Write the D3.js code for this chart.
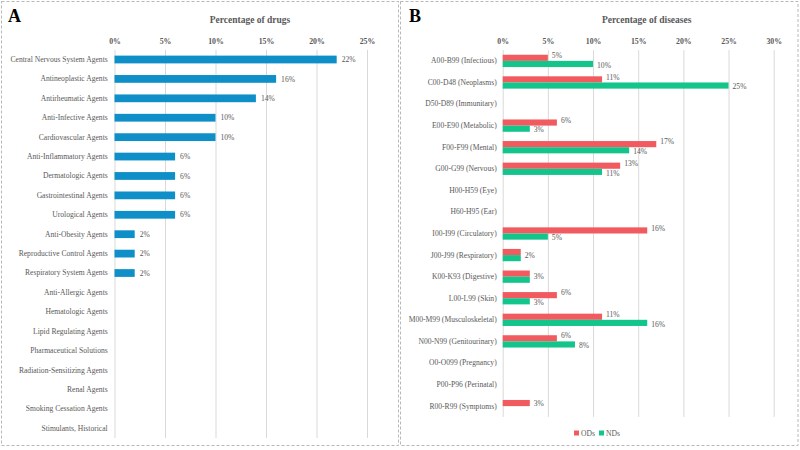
<!DOCTYPE html>
<html><head><meta charset="utf-8">
<script src="https://cdn.jsdelivr.net/npm/d3@7"></script>
<style>body{margin:0;background:#fff}svg{display:block}text{font-family:"Liberation Serif","Times New Roman",serif}</style>
</head><body>
<svg id="c" width="800" height="450"></svg>
<script>
// ---- Data ----
const drugCategories = ["Central Nervous System Agents","Antineoplastic Agents","Antirheumatic Agents","Anti-Infective Agents","Cardiovascular Agents","Anti-Inflammatory Agents","Dermatologic Agents","Gastrointestinal Agents","Urological Agents","Anti-Obesity Agents","Reproductive Control Agents","Respiratory System Agents","Anti-Allergic Agents","Hematologic Agents","Lipid Regulating Agents","Pharmaceutical Solutions","Radiation-Sensitizing Agents","Renal Agents","Smoking Cessation Agents","Stimulants, Historical"];
const drugValues = [0.22,0.16,0.14,0.10,0.10,0.06,0.06,0.06,0.06,0.02,0.02,0.02,0,0,0,0,0,0,0,0];
const drugTicks = [0,0.05,0.10,0.15,0.20,0.25];

const diseaseCategories = ["A00-B99 (Infectious)","C00-D48 (Neoplasms)","D50-D89 (Immunitary)","E00-E90 (Metabolic)","F00-F99 (Mental)","G00-G99 (Nervous)","H00-H59 (Eye)","H60-H95 (Ear)","I00-I99 (Circulatory)","J00-J99 (Respiratory)","K00-K93 (Digestive)","L00-L99 (Skin)","M00-M99 (Musculoskeletal)","N00-N99 (Genitourinary)","O0-O099 (Pregnancy)","P00-P96 (Perinatal)","R00-R99 (Symptoms)"];
const odsValues = [0.05,0.11,0,0.06,0.17,0.13,0,0,0.16,0.02,0.03,0.06,0.11,0.06,0,0,0.03];
const ndsValues = [0.10,0.25,0,0.03,0.14,0.11,0,0,0.05,0.02,0.03,0.03,0.16,0.08,0,0,0];
const diseaseTicks = [0,0.05,0.10,0.15,0.20,0.25,0.30];
const seriesNames = ["ODs","NDs"];

const svg = d3.select("#c");
const gray = "#595959", grid = "#D9D9D9";
const fmt = d3.format(".0%");

// panel borders
[[1.5,1.5,397,444],[400.5,1.5,397.5,444]].forEach(b=>{
  svg.append("rect").attr("x",b[0]).attr("y",b[1]).attr("width",b[2]).attr("height",b[3])
    .attr("fill","none").attr("stroke","#A6A6A6").attr("stroke-width",0.8).attr("stroke-dasharray","3,2");
});

// ---------- Panel A ----------
{
  const x = d3.scaleLinear().domain([0,0.25]).range([114.5,367]);
  const y = d3.scaleBand().domain(drugCategories).range([49.8,438]).paddingInner(0.6).paddingOuter(0.3);
  const g = svg.append("g");
  g.append("text").attr("x",8).attr("y",22).attr("font-size",18).attr("font-weight","bold").attr("fill","#000").text("A");
  g.append("text").attr("x",250).attr("y",23).attr("text-anchor","middle").attr("font-size",9.5).attr("font-weight","bold").attr("fill",gray).text("Percentage of drugs");
  const ax = d3.axisTop(x).tickValues(drugTicks).tickFormat(fmt).tickSize(-(438-49.8)).tickPadding(6);
  const axg = g.append("g").attr("transform","translate(0,49.8)").call(ax);
  axg.select(".domain").remove();
  axg.selectAll("line").attr("stroke",grid).attr("stroke-width",1);
  axg.selectAll("text").attr("font-size",7.8).attr("font-weight","bold").attr("fill",gray);
  const yAx = d3.axisLeft(y).tickSize(0).tickPadding(6.8);
  const yg = g.append("g").attr("transform","translate(114.5,0)").call(yAx);
  yg.select(".domain").remove();
  yg.selectAll("text").attr("font-size",7.6).attr("fill",gray);
  const data = drugCategories.map((c,i)=>({c,v:drugValues[i]}));
  g.selectAll("rect.bar").data(data.filter(d=>d.v>0)).join("rect").attr("class","bar")
    .attr("x",x(0)).attr("y",d=>y(d.c)).attr("width",d=>x(d.v)-x(0)).attr("height",y.bandwidth()).attr("fill","#0F8FC8");
  g.selectAll("text.val").data(data.filter(d=>d.v>0)).join("text").attr("class","val")
    .attr("x",d=>x(d.v)+5).attr("y",d=>y(d.c)+y.bandwidth()/2).attr("dy","0.35em")
    .attr("font-size",7.6).attr("fill",gray).text(d=>fmt(d.v));
}

// ---------- Panel B ----------
{
  const x = d3.scaleLinear().domain([0,0.30]).range([502.7,773.7]);
  const y = d3.scaleBand().domain(diseaseCategories).range([50.1,416.9]).paddingInner(0.43).paddingOuter(0.215);
  const sub = d3.scaleBand().domain(seriesNames).range([0,y.bandwidth()]);
  const colors = {ODs:"#F15B60",NDs:"#13C48B"};
  const g = svg.append("g");
  g.append("text").attr("x",409).attr("y",22).attr("font-size",18).attr("font-weight","bold").attr("fill","#000").text("B");
  g.append("text").attr("x",646.7).attr("y",23).attr("text-anchor","middle").attr("font-size",9.5).attr("font-weight","bold").attr("fill",gray).text("Percentage of diseases");
  const ax = d3.axisTop(x).tickValues(diseaseTicks).tickFormat(fmt).tickSize(-(416.9-50.1)).tickPadding(6);
  const axg = g.append("g").attr("transform","translate(0,50.1)").call(ax);
  axg.select(".domain").remove();
  axg.selectAll("line").attr("stroke",grid).attr("stroke-width",1);
  axg.selectAll("text").attr("font-size",7.8).attr("font-weight","bold").attr("fill",gray);
  const yAx = d3.axisLeft(y).tickSize(0).tickPadding(6);
  const yg = g.append("g").attr("transform","translate(502.7,0)").call(yAx);
  yg.select(".domain").remove();
  yg.selectAll("text").attr("font-size",7.6).attr("fill",gray);
  const data = [];
  diseaseCategories.forEach((c,i)=>{
    data.push({c,s:"ODs",v:odsValues[i],other:ndsValues[i]});
    data.push({c,s:"NDs",v:ndsValues[i],other:odsValues[i]});
  });
  const nz = data.filter(d=>d.v>0);
  g.selectAll("rect.bar").data(nz).join("rect").attr("class","bar")
    .attr("x",x(0)).attr("y",d=>y(d.c)+sub(d.s)).attr("width",d=>x(d.v)-x(0)).attr("height",sub.bandwidth()).attr("fill",d=>colors[d.s]);
  // Excel-like label placement: equal values share one label at the pair boundary
  const labelY = d => {
    if (d.v === d.other) return y(d.c) + y.bandwidth()/2;
    const base = y(d.c)+sub(d.s)+sub.bandwidth()/2;
    if (d.s === "ODs") return base + (d.other>0 ? -2.5 : 0);
    return base + 1;
  };
  const labels = nz.filter(d => !(d.s === "NDs" && d.v === d.other));
  g.selectAll("text.val").data(labels).join("text").attr("class","val")
    .attr("x",d=>x(d.v)+4)
    .attr("y",labelY)
    .attr("dy","0.35em").attr("font-size",7.6).attr("fill",gray).text(d=>fmt(d.v));
  // legend
  const lg = g.append("g").attr("transform","translate(574,433)");
  seriesNames.forEach((s,i)=>{
    const off = i*25;
    lg.append("rect").attr("x",off).attr("y",-2.5).attr("width",5).attr("height",5).attr("fill",colors[s]);
    lg.append("text").attr("x",off+7).attr("y",0).attr("dy","0.35em").attr("font-size",7.6).attr("fill",gray).text(s);
  });
}
</script>
</body></html>
